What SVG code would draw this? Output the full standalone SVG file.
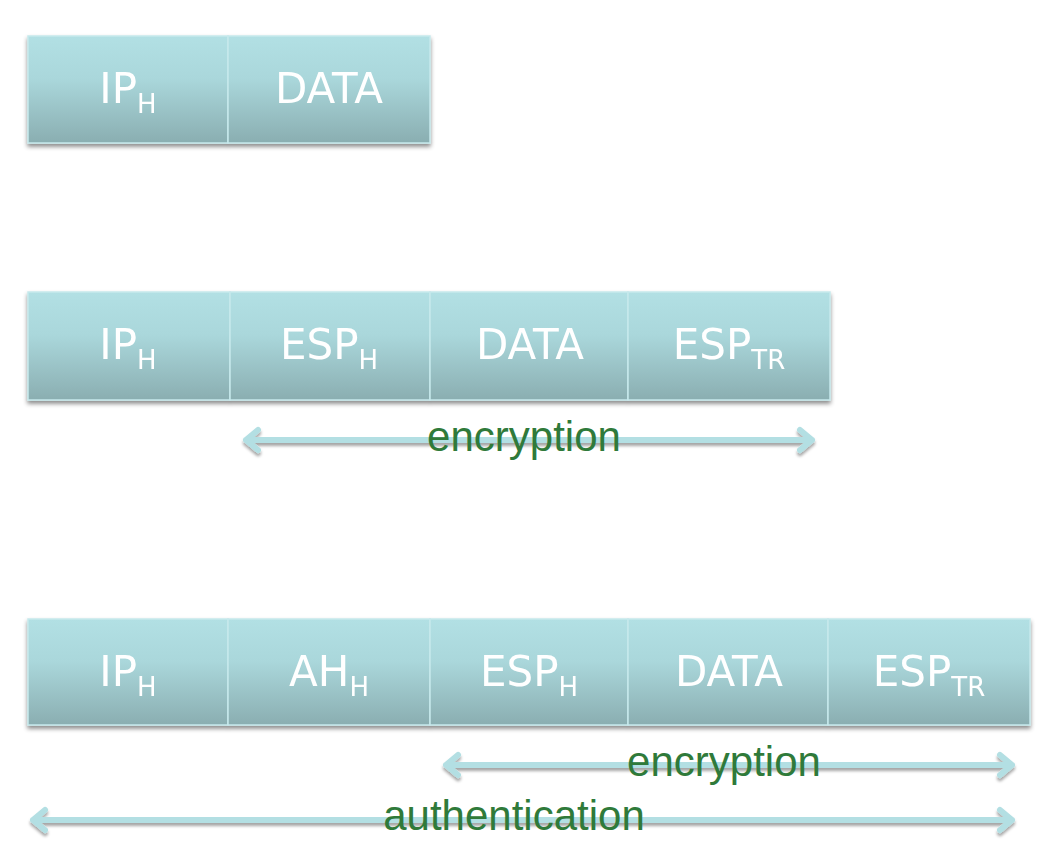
<svg xmlns="http://www.w3.org/2000/svg" width="1046" height="864" viewBox="0 0 1046 864">
<defs>
<linearGradient id="g" x1="0" y1="0" x2="0" y2="1">
<stop offset="0" stop-color="#b2e0e4"/>
<stop offset="0.4" stop-color="#aad7db"/>
<stop offset="1" stop-color="#8aaeb1"/>
</linearGradient>
<filter id="sh" x="-5%" y="-10%" width="110%" height="130%">
<feDropShadow dx="0" dy="3" stdDeviation="2" flood-color="#000" flood-opacity="0.45"/>
</filter>
<filter id="ash" x="-5%" y="-100%" width="110%" height="400%">
<feDropShadow dx="0" dy="3" stdDeviation="1.5" flood-color="#000" flood-opacity="0.35"/>
</filter>
</defs>
<style>
.box{fill:url(#g);stroke:#c6e9ec;stroke-width:1.5;}
.t{font-family:"DejaVu Sans",sans-serif;font-size:42px;fill:#fff;text-anchor:middle;}
.s{font-size:26px;}
.arr{fill:none;stroke:#b3dfe3;stroke-width:6;stroke-linecap:round;stroke-linejoin:round;}
.lbl{font-family:"Liberation Sans",Arial,sans-serif;font-size:42px;fill:#2f7a3a;text-anchor:middle;}
</style>
<g id="connectors" filter="url(#ash)">
<path class="arr" d="M246,440 H812 M258,430 L246,440 L258,450 M800,430 L812,440 L800,450"/>
<path class="arr" d="M446,765 H1012 M458,755 L446,765 L458,775 M1000,755 L1012,765 L1000,775"/>
<path class="arr" d="M33,820 H1012 M45,810 L33,820 L45,830 M1000,810 L1012,820 L1000,830"/>
</g>
<g id="row1" filter="url(#sh)">
<g id="r1-ip"><rect class="box" x="28" y="36" width="200" height="107"/><text class="t" x="128" y="103">IP<tspan class="s" dy="10">H</tspan></text></g>
<g id="r1-data"><rect class="box" x="228" y="36" width="202" height="107"/><text class="t" x="329" y="103">DATA</text></g>
</g>
<g id="row2" filter="url(#sh)">
<g id="r2-ip"><rect class="box" x="28" y="292" width="202" height="108"/><text class="t" x="128" y="359">IP<tspan class="s" dy="10">H</tspan></text></g>
<g id="r2-esph"><rect class="box" x="230" y="292" width="200" height="108"/><text class="t" x="329" y="359">ESP<tspan class="s" dy="10">H</tspan></text></g>
<g id="r2-data"><rect class="box" x="430" y="292" width="198" height="108"/><text class="t" x="530" y="359">DATA</text></g>
<g id="r2-esptr"><rect class="box" x="628" y="292" width="202" height="108"/><text class="t" x="729" y="359">ESP<tspan class="s" dy="10">TR</tspan></text></g>
</g>
<g id="row3" filter="url(#sh)">
<g id="r3-ip"><rect class="box" x="28" y="619" width="200" height="106"/><text class="t" x="128" y="686">IP<tspan class="s" dy="10">H</tspan></text></g>
<g id="r3-ah"><rect class="box" x="228" y="619" width="202" height="106"/><text class="t" x="329" y="686">AH<tspan class="s" dy="10">H</tspan></text></g>
<g id="r3-esph"><rect class="box" x="430" y="619" width="198" height="106"/><text class="t" x="529" y="686">ESP<tspan class="s" dy="10">H</tspan></text></g>
<g id="r3-data"><rect class="box" x="628" y="619" width="200" height="106"/><text class="t" x="729" y="686">DATA</text></g>
<g id="r3-esptr"><rect class="box" x="828" y="619" width="202" height="106"/><text class="t" x="929" y="686">ESP<tspan class="s" dy="10">TR</tspan></text></g>
</g>
<g id="labels">
<text class="lbl" x="524" y="451">encryption</text>
<text class="lbl" x="724" y="776">encryption</text>
<text class="lbl" x="514" y="830">authentication</text>
</g>
</svg>
